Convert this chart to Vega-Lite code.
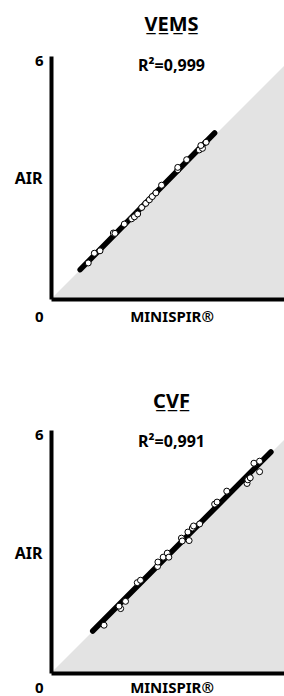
{
  "$schema": "https://vega.github.io/schema/vega-lite/v6.json",
  "background": "white",
  "padding": {"left": 14, "top": 15, "right": 0, "bottom": 0},
  "config": {"view": {"stroke": null}, "font": "Noto Sans"},
  "datasets": {
    "diag": [{"minispir": 0, "air": 0}, {"minispir": 6, "air": 6}],
    "vems": [
      {"minispir": 0.92, "air": 0.89}, {"minispir": 1.07, "air": 1.13}, {"minispir": 1.21, "air": 1.19},
      {"minispir": 1.54, "air": 1.63}, {"minispir": 1.58, "air": 1.62}, {"minispir": 1.81, "air": 1.85},
      {"minispir": 1.99, "air": 1.98}, {"minispir": 2.06, "air": 2.03}, {"minispir": 2.14, "air": 2.10},
      {"minispir": 2.24, "air": 2.26}, {"minispir": 2.34, "air": 2.36}, {"minispir": 2.43, "air": 2.45},
      {"minispir": 2.50, "air": 2.53}, {"minispir": 2.59, "air": 2.62}, {"minispir": 2.73, "air": 2.81},
      {"minispir": 3.13, "air": 3.19}, {"minispir": 3.13, "air": 3.25}, {"minispir": 3.35, "air": 3.44},
      {"minispir": 3.66, "air": 3.68}, {"minispir": 3.74, "air": 3.72}, {"minispir": 3.70, "air": 3.79},
      {"minispir": 3.83, "air": 3.87}
    ],
    "cvf": [
      {"minispir": 1.31, "air": 1.18}, {"minispir": 1.72, "air": 1.59}, {"minispir": 1.68, "air": 1.65},
      {"minispir": 1.84, "air": 1.77}, {"minispir": 2.13, "air": 2.23}, {"minispir": 2.21, "air": 2.29},
      {"minispir": 2.63, "air": 2.63}, {"minispir": 2.64, "air": 2.74}, {"minispir": 2.77, "air": 2.86},
      {"minispir": 2.87, "air": 2.96}, {"minispir": 2.91, "air": 2.86}, {"minispir": 3.22, "air": 3.33},
      {"minispir": 3.24, "air": 3.26}, {"minispir": 3.41, "air": 3.27}, {"minispir": 3.38, "air": 3.48},
      {"minispir": 3.49, "air": 3.58}, {"minispir": 3.52, "air": 3.63}, {"minispir": 3.67, "air": 3.68},
      {"minispir": 4.04, "air": 4.17}, {"minispir": 4.10, "air": 4.22}, {"minispir": 4.34, "air": 4.49},
      {"minispir": 4.84, "air": 4.68}, {"minispir": 4.86, "air": 4.77}, {"minispir": 4.92, "air": 4.82},
      {"minispir": 5.01, "air": 5.18}, {"minispir": 5.15, "air": 5.23}, {"minispir": 5.15, "air": 4.97}
    ]
  },
  "vconcat": [
    {
      "width": 233,
      "height": 243,
      "title": {
        "text": "V̲E̲M̲S̲",
        "subtitle": "R²=0,999",
        "frame": "group",
        "anchor": "middle",
        "dx": 4,
        "offset": -21,
        "subtitlePadding": 23,
        "font": "Noto Sans",
        "fontSize": 20,
        "fontWeight": "bold",
        "color": "black",
        "subtitleFont": "Noto Sans",
        "subtitleFontSize": 16,
        "subtitleFontWeight": "bold",
        "subtitleColor": "black"
      },
      "encoding": {
        "x": {
          "field": "minispir", "type": "quantitative",
          "scale": {"domain": [0, 5.753], "nice": false, "zero": false},
          "axis": {
            "title": "MINISPIR®", "labels": false, "ticks": false, "tickSize": 0, "grid": false,
            "domainColor": "black", "domainWidth": 4, "zindex": 1,
            "titleFont": "Noto Sans", "titleFontWeight": "bold", "titleFontSize": 15, "titleColor": "black",
            "titleX": 120.5, "titleY": 17, "titleAlign": "center", "titleBaseline": "middle"
          }
        },
        "y": {
          "field": "air", "type": "quantitative",
          "scale": {"domain": [0, 6], "nice": false, "zero": false},
          "axis": {
            "title": "AIR", "values": [0, 6], "ticks": false, "tickSize": 0, "grid": false,
            "domainColor": "black", "domainWidth": 4, "zindex": 1,
            "labelFont": "Noto Sans", "labelFontWeight": "bold", "labelFontSize": 15, "labelColor": "black",
            "labelPadding": 8, "labelBaseline": "middle", "labelFlush": false, "labelOverlap": false,
            "labelOffset": {"condition": {"test": "datum.value == 0", "value": 17}, "value": 4},
            "titleFont": "Noto Sans", "titleFontWeight": "bold", "titleFontSize": 16, "titleColor": "black",
            "titleAngle": 0, "titleAlign": "right", "titleBaseline": "middle", "titleX": -9, "titleY": 122
          }
        }
      },
      "layer": [
        {"data": {"name": "diag"}, "mark": {"type": "area", "color": "#e3e3e3", "clip": true}},
        {
          "data": {"name": "vems"},
          "transform": [{"regression": "air", "on": "minispir", "extent": [0.72, 4.04]}],
          "mark": {"type": "line", "color": "black", "strokeWidth": 5.5, "strokeCap": "round"}
        },
        {
          "data": {"name": "vems"},
          "mark": {"type": "point", "filled": true, "fill": "white", "stroke": "black", "strokeWidth": 1, "size": 36, "opacity": 1}
        }
      ]
    },
    {
      "width": 233,
      "height": 243,
      "title": {
        "text": "C̲V̲F̲",
        "subtitle": "R²=0,991",
        "frame": "group",
        "anchor": "middle",
        "dx": 4,
        "offset": -23,
        "subtitlePadding": 22,
        "font": "Noto Sans",
        "fontSize": 20,
        "fontWeight": "bold",
        "color": "black",
        "subtitleFont": "Noto Sans",
        "subtitleFontSize": 16,
        "subtitleFontWeight": "bold",
        "subtitleColor": "black"
      },
      "encoding": {
        "x": {
          "field": "minispir", "type": "quantitative",
          "scale": {"domain": [0, 5.753], "nice": false, "zero": false},
          "axis": {
            "title": "MINISPIR®", "labels": false, "ticks": false, "tickSize": 0, "grid": false,
            "domainColor": "black", "domainWidth": 4, "zindex": 1,
            "titleFont": "Noto Sans", "titleFontWeight": "bold", "titleFontSize": 15, "titleColor": "black",
            "titleX": 120.5, "titleY": 14, "titleAlign": "center", "titleBaseline": "middle"
          }
        },
        "y": {
          "field": "air", "type": "quantitative",
          "scale": {"domain": [0, 6], "nice": false, "zero": false},
          "axis": {
            "title": "AIR", "values": [0, 6], "ticks": false, "tickSize": 0, "grid": false,
            "domainColor": "black", "domainWidth": 4, "zindex": 1,
            "labelFont": "Noto Sans", "labelFontWeight": "bold", "labelFontSize": 15, "labelColor": "black",
            "labelPadding": 8, "labelBaseline": "middle", "labelFlush": false, "labelOverlap": false,
            "labelOffset": {"condition": {"test": "datum.value == 0", "value": 14}, "value": 4},
            "titleFont": "Noto Sans", "titleFontWeight": "bold", "titleFontSize": 16, "titleColor": "black",
            "titleAngle": 0, "titleAlign": "right", "titleBaseline": "middle", "titleX": -9, "titleY": 123
          }
        }
      },
      "layer": [
        {"data": {"name": "diag"}, "mark": {"type": "area", "color": "#e3e3e3", "clip": true}},
        {
          "data": {"name": "cvf"},
          "transform": [{"regression": "air", "on": "minispir", "extent": [1.03, 5.43]}],
          "mark": {"type": "line", "color": "black", "strokeWidth": 5.5, "strokeCap": "round"}
        },
        {
          "data": {"name": "cvf"},
          "mark": {"type": "point", "filled": true, "fill": "white", "stroke": "black", "strokeWidth": 1, "size": 36, "opacity": 1}
        }
      ]
    }
  ],
  "spacing": 131,
  "bounds": "flush"
}
